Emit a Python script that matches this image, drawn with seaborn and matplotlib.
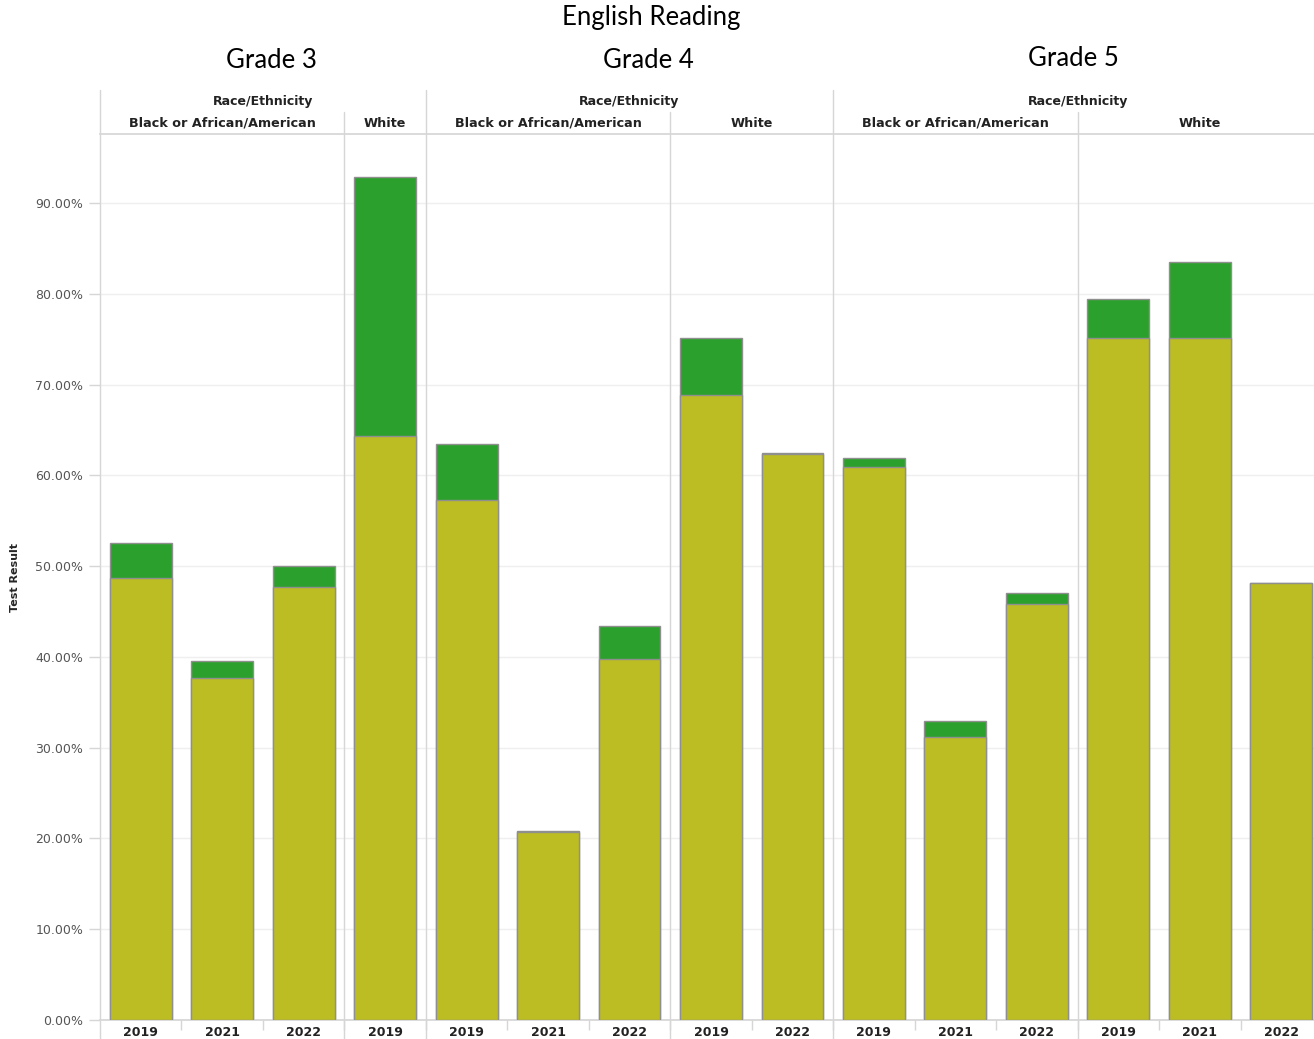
import matplotlib
matplotlib.use("Agg")
import matplotlib.pyplot as plt
import seaborn as sns
import pandas as pd
from matplotlib.transforms import blended_transform_factory

# data (percent)
grades = ["Grade 3"] * 4 + ["Grade 4"] * 5 + ["Grade 5"] * 6
races = (["Black or African/American"] * 3 + ["White"]
         + ["Black or African/American"] * 3 + ["White"] * 2
         + ["Black or African/American"] * 3 + ["White"] * 3)
years = ["2019", "2021", "2022", "2019",
         "2019", "2021", "2022", "2019", "2022",
         "2019", "2021", "2022", "2019", "2021", "2022"]
base_result = [48.7, 37.7, 47.7, 64.3,
               57.3, 20.7, 39.8, 68.8, 62.4,
               60.9, 31.2, 45.8, 75.1, 75.1, 48.1]
total_result = [52.6, 39.5, 50.0, 92.9,
                63.5, 20.8, 43.4, 75.1, 62.5,
                61.9, 32.9, 47.0, 79.4, 83.5, 48.1]
y_ticks = [0, 10, 20, 30, 40, 50, 60, 70, 80, 90]

df = pd.DataFrame({"grade": grades, "race": races, "year": years,
                   "base": base_result, "total": total_result})
df["slot"] = [f"{g}|{r}|{y}|{i}" for i, (g, r, y) in enumerate(zip(grades, races, years))]

OLIVE = "#bcbd22"
GREEN = "#2ca02c"
EDGE = "#8f8f8f"
LINE = "#d6d6d6"

sns.set_theme(style="white")
plt.rcParams["font.family"] = ["DejaVu Sans"]

W, H = 1314, 1039
fig = plt.figure(figsize=(W / 100, H / 100), dpi=100)
ax_left, ax_right, ax_top, ax_bot = 100, 1322, 134, 1020
ax = fig.add_axes([ax_left / W, (H - ax_bot) / H, (ax_right - ax_left) / W, (ax_bot - ax_top) / H])

sns.barplot(data=df, x="slot", y="total", color=GREEN, saturation=1, width=0.76,
            edgecolor=EDGE, linewidth=1, errorbar=None, ax=ax, zorder=2)
sns.barplot(data=df, x="slot", y="base", color=OLIVE, saturation=1, width=0.76,
            edgecolor=EDGE, linewidth=1, errorbar=None, ax=ax, zorder=3)

n = len(df)
ax.set_xlim(-0.5, n - 0.5)
ax.set_ylim(0, 97.6)

ax.set_yticks(y_ticks)
ax.set_yticklabels([f"{v:.2f}%" for v in y_ticks], color="#555555", fontsize=9)
ax.yaxis.grid(True, color="#efefef", linewidth=1)
ax.set_axisbelow(True)
ax.tick_params(axis="y", length=8, color=LINE, width=1, pad=4, left=True)

ax.set_xticks(range(n))
ax.set_xticklabels(years, fontsize=9, fontweight="bold", color="#222222")
ax.tick_params(axis="x", length=0, pad=4)
ax.set_xticks([i + 0.5 for i in range(n - 1)], minor=True)
ax.tick_params(axis="x", which="minor", length=7, color=LINE, width=1, bottom=True)

ax.set_xlabel("")
ax.set_ylabel("Test Result", fontsize=8, fontweight="bold")
ax.yaxis.set_label_coords((20 - ax_left) / (ax_right - ax_left), 0.5)

for side in ["left", "right"]:
    ax.spines[side].set_visible(False)
ax.spines["top"].set_color(LINE)
ax.spines["bottom"].set_color(LINE)

# dividers between panels
trans = blended_transform_factory(ax.transData, ax.transAxes)
def ay(px):
    return (ax_bot - px) / (ax_bot - ax_top)

grade_edges = [-0.5, 3.5, 8.5]
race_edges = [2.5, 6.5, 11.5]
for xe in grade_edges:
    ax.plot([xe, xe], [ay(90), ay(H)], transform=trans, color=LINE, lw=1, clip_on=False, zorder=1)
for xe in race_edges:
    ax.plot([xe, xe], [ay(112), ay(H)], transform=trans, color=LINE, lw=1, clip_on=False, zorder=1)

# headers
blocks = [(-0.5, 3.5), (3.5, 8.5), (8.5, 14.5)]
for lo, hi in blocks:
    ax.text((lo + hi) / 2, ay(101), "Race/Ethnicity", transform=trans, ha="center", va="center",
            fontsize=9, fontweight="bold", color="#222222")
race_blocks = [(-0.5, 2.5, "Black or African/American"), (2.5, 3.5, "White"),
               (3.5, 6.5, "Black or African/American"), (6.5, 8.5, "White"),
               (8.5, 11.5, "Black or African/American"), (11.5, 14.5, "White")]
for lo, hi, label in race_blocks:
    ax.text((lo + hi) / 2, ay(123), label, transform=trans, ha="center", va="center",
            fontsize=9.2, fontweight="bold", color="#222222")

title_font = ["Lato", "DejaVu Sans"]
fig.text(651 / W, 1 - 18 / H, "English Reading", ha="center", va="center", fontsize=18.5,
         family=title_font, color="black")
for x, y, label in [(271, 61, "Grade 3"), (648, 61, "Grade 4"), (1073, 59, "Grade 5")]:
    fig.text(x / W, 1 - y / H, label, ha="center", va="center", fontsize=18.5,
             family=title_font, color="black")

fig.savefig("out.png", dpi=100)
